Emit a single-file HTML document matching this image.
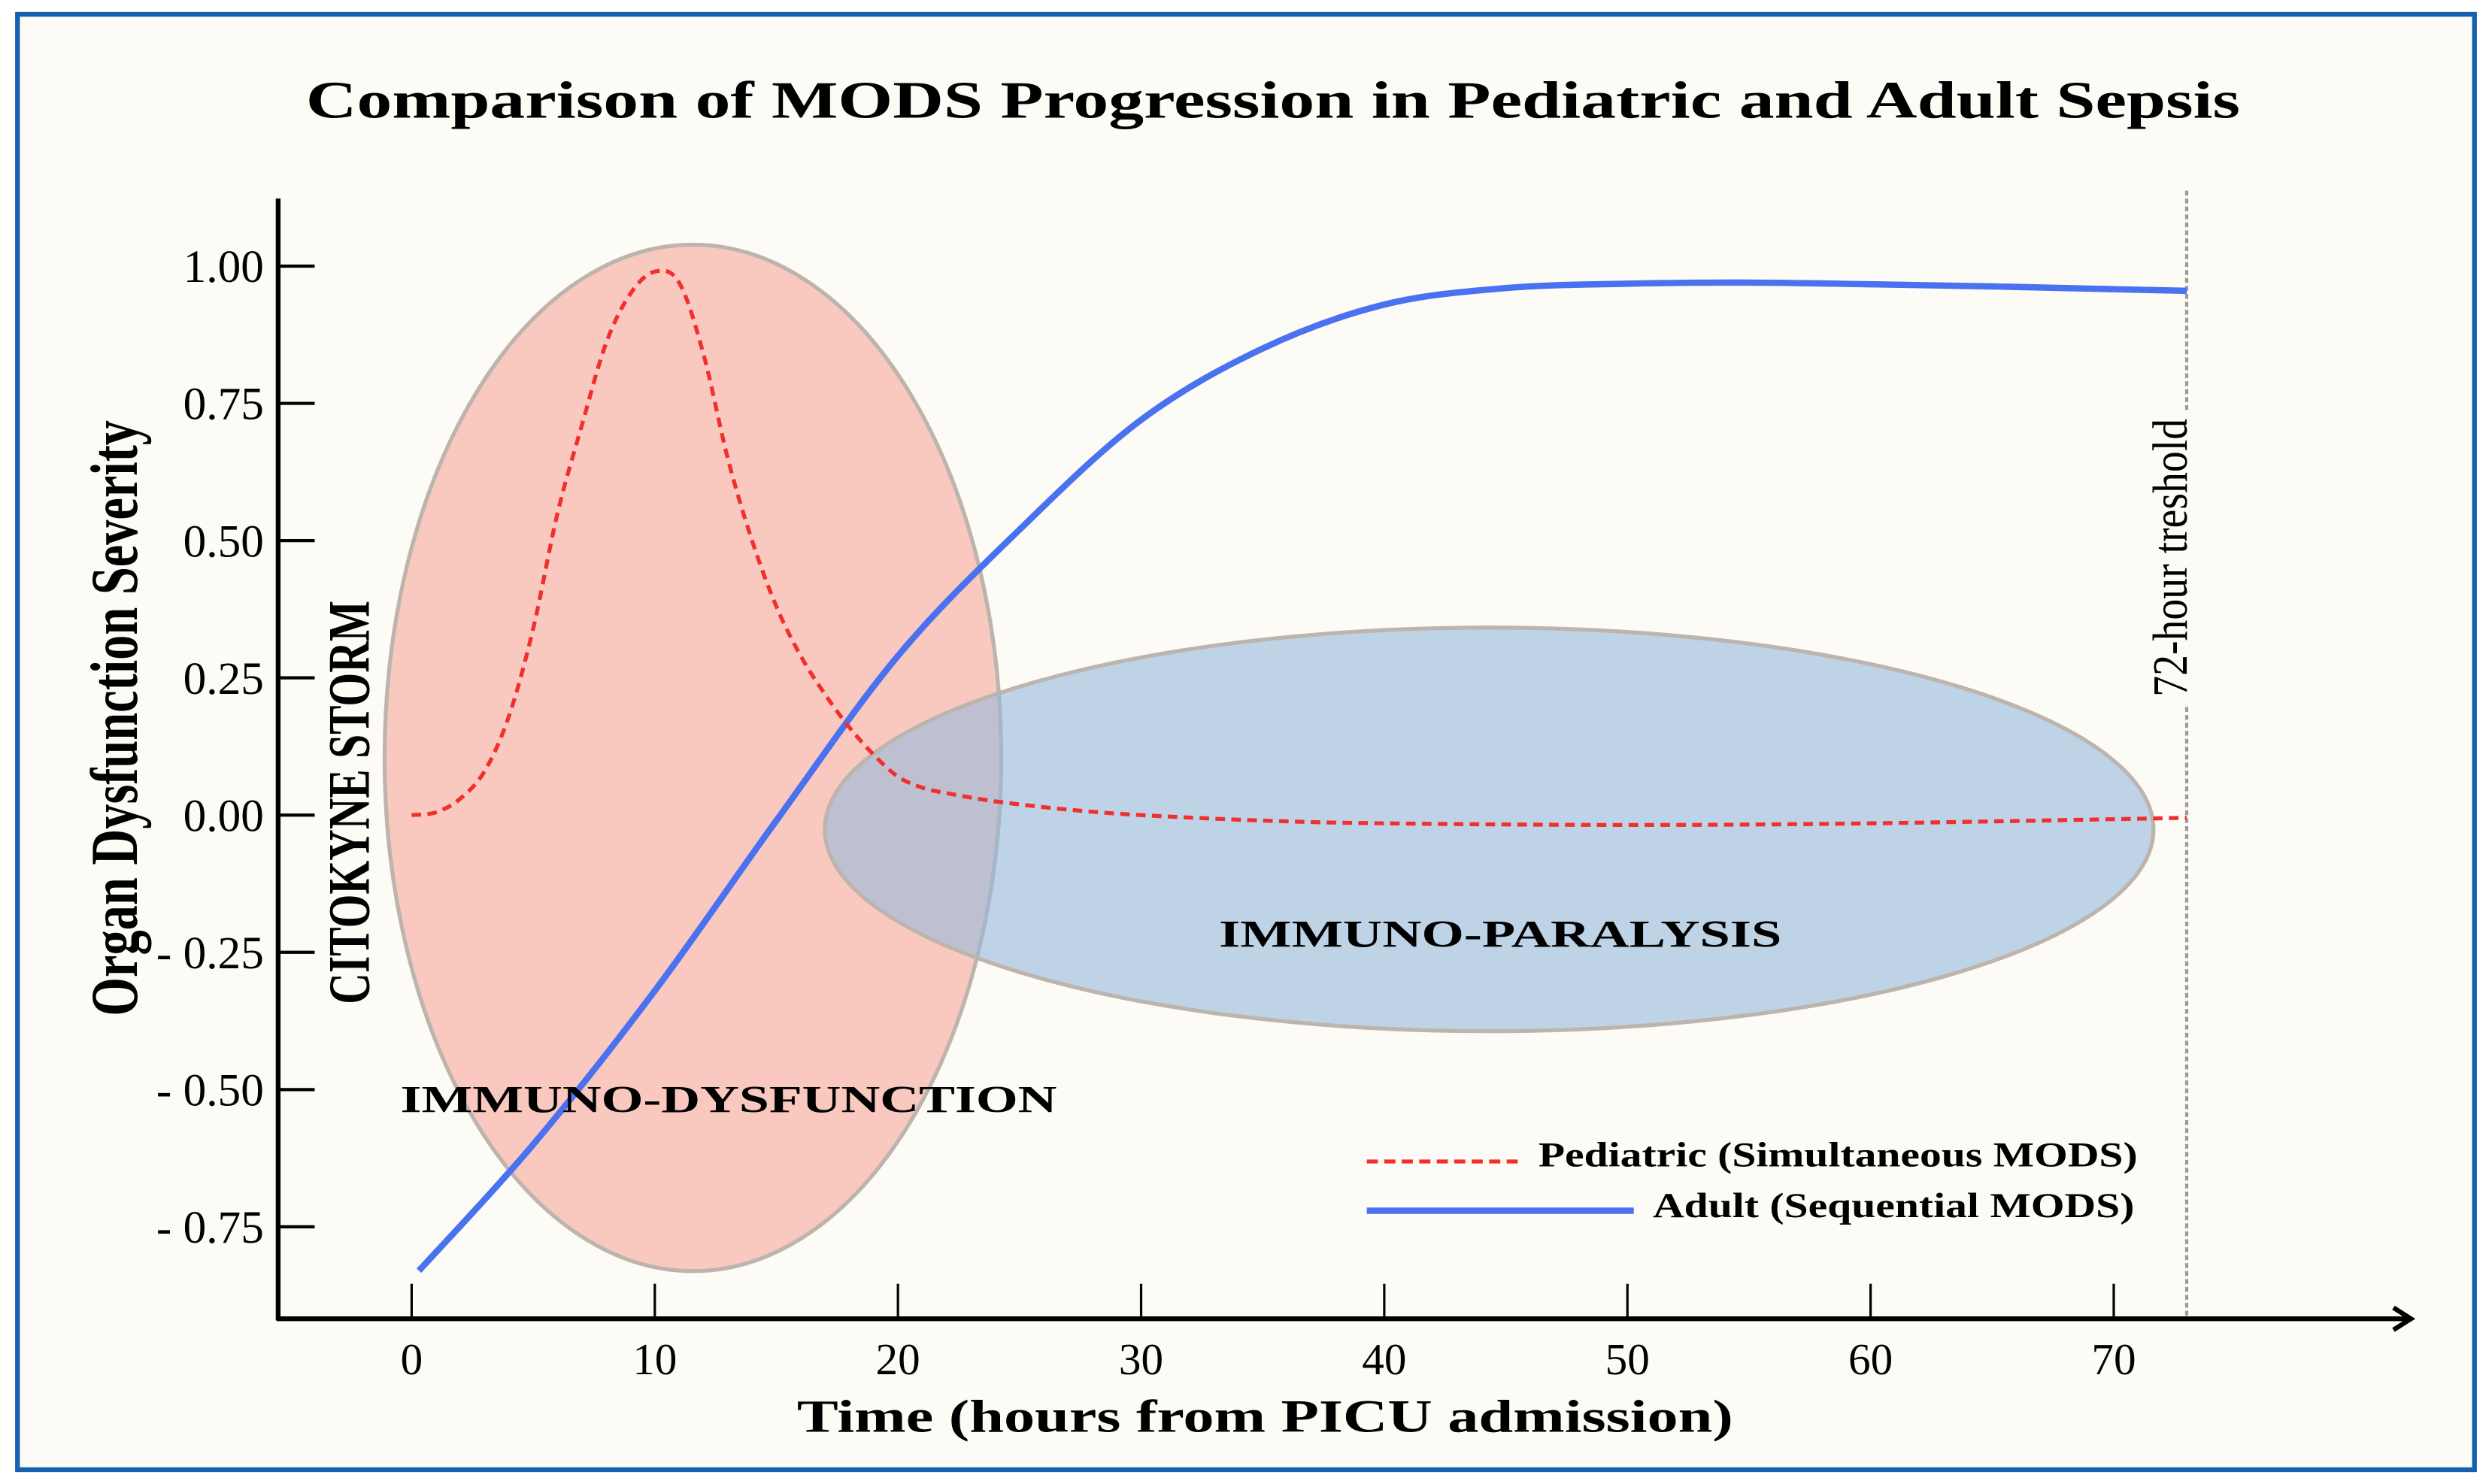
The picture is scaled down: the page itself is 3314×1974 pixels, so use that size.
<!DOCTYPE html>
<html><head><meta charset="utf-8">
<style>
html,body{margin:0;padding:0;background:#fff;}
svg{display:block;}
text{font-family:"Liberation Serif",serif;}
</style></head>
<body>
<svg id="chart" width="3314" height="1974" viewBox="0 0 1568 934" xmlns="http://www.w3.org/2000/svg">
<rect x="0" y="0" width="1568" height="934" fill="#ffffff"/>
<rect x="11" y="9" width="1546" height="916" fill="#fdfbf5" stroke="#1560b0" stroke-width="3"/>
<text x="801" y="74" text-anchor="middle" font-size="33" font-weight="bold" textLength="1217" lengthAdjust="spacingAndGlyphs">Comparison of MODS Progression in Pediatric and Adult Sepsis</text>

<ellipse cx="436" cy="477" rx="194" ry="323" fill="#f9c9c0" stroke="#bdb5ad" stroke-width="2.5"/>
<ellipse cx="937" cy="522" rx="418" ry="127" fill="rgba(150,185,220,0.6)" stroke="#bdb5ad" stroke-width="2.5"/>

<g id="axes"></g>
<g id="series"></g>

<text transform="translate(86,452) rotate(-90)" text-anchor="middle" font-size="42" font-weight="bold" textLength="375" lengthAdjust="spacingAndGlyphs">Organ Dysfunction Severity</text>
<text transform="translate(232,505) rotate(-90)" text-anchor="middle" font-size="37" font-weight="bold" textLength="254" lengthAdjust="spacingAndGlyphs">CITOKYNE STORM</text>
<text x="252" y="700" font-size="24" font-weight="bold" textLength="413" lengthAdjust="spacingAndGlyphs">IMMUNO-DYSFUNCTION</text>
<text x="767" y="596" font-size="24" font-weight="bold" textLength="354" lengthAdjust="spacingAndGlyphs">IMMUNO-PARALYSIS</text>
<text x="796" y="901" text-anchor="middle" font-size="29" font-weight="bold" textLength="589" lengthAdjust="spacingAndGlyphs">Time (hours from PICU admission)</text>

<g>
<line x1="860" y1="731" x2="955" y2="731" stroke="#f0302c" stroke-width="2.5" stroke-dasharray="7,4"/>
<text x="968" y="734" font-size="22" font-weight="bold" textLength="377" lengthAdjust="spacingAndGlyphs">Pediatric (Simultaneous MODS)</text>
<line x1="860" y1="762" x2="1028" y2="762" stroke="#4a72f0" stroke-width="4"/>
<text x="1040" y="766" font-size="22" font-weight="bold" textLength="303" lengthAdjust="spacingAndGlyphs">Adult (Sequential MODS)</text>
</g>
</svg>
<script>
const xTicks = [0,10,20,30,40,50,60,70];
const yTicks = [1.0,0.75,0.5,0.25,0.0,-0.25,-0.5,-0.75];
const yTickLabels = ["1.00","0.75","0.50","0.25","0.00","- 0.25","- 0.50","- 0.75"];
const thresholdHour = 73;
const pedT = [0,1,2,3,4,5,6,7,8,9,10,11,12,13,14,15,16,17,18,19,20,21,22,24,27,30,35,40,50,60,73];
const pedV = [0,0.005,0.03,0.08,0.18,0.34,0.55,0.71,0.86,0.95,0.99,0.97,0.84,0.65,0.5,0.38,0.29,0.22,0.16,0.11,0.07,0.05,0.04,0.025,0.01,0,-0.01,-0.015,-0.018,-0.015,-0.005];
const adultT = [0.3,5,10,15,20,25,30,35,40,45,50,55,60,65,70,73];
const adultV = [-0.83,-0.6,-0.32,-0.01,0.29,0.52,0.72,0.85,0.93,0.96,0.968,0.97,0.967,0.963,0.958,0.955];

const NS = "http://www.w3.org/2000/svg";
const xS = t => 259 + t * 15.3;
const yS = v => 513 - v * 345.5;
function mk(tag, attrs, parent){ const e=document.createElementNS(NS,tag); for(const k in attrs) e.setAttribute(k,attrs[k]); parent.appendChild(e); return e; }
function smooth(ts, vs){
  const p = ts.map((t,i)=>[xS(t), yS(vs[i])]);
  let d = "M"+p[0][0]+","+p[0][1];
  for(let i=0;i<p.length-1;i++){
    const p0=p[Math.max(0,i-1)], p1=p[i], p2=p[i+1], p3=p[Math.min(p.length-1,i+2)];
    const c1=[p1[0]+(p2[0]-p0[0])/6, p1[1]+(p2[1]-p0[1])/6];
    const c2=[p2[0]-(p3[0]-p1[0])/6, p2[1]-(p3[1]-p1[1])/6];
    d += " C"+c1[0]+","+c1[1]+" "+c2[0]+","+c2[1]+" "+p2[0]+","+p2[1];
  }
  return d;
}
const ax = document.getElementById("axes");
const se = document.getElementById("series");

const th = mk("line",{x1:xS(thresholdHour),y1:120,x2:xS(thresholdHour),y2:830,stroke:"#9a9a9a","stroke-width":2,"stroke-dasharray":"3,2"},ax);


const tbg = mk("rect",{x:xS(thresholdHour)-22,y:260,width:30,height:184,fill:"#fdfbf5"},ax);


const tl = mk("text",{transform:"translate("+(xS(thresholdHour)+0)+",351) rotate(-90)","text-anchor":"middle","font-size":31,textLength:175,lengthAdjust:"spacingAndGlyphs"},ax);
tl.textContent = "72-hour treshold";



const ya = mk("line",{x1:175,y1:125,x2:175,y2:831,stroke:"#000","stroke-width":3},ax);


const xa = mk("line",{x1:174,y1:830,x2:1514,y2:830,stroke:"#000","stroke-width":3},ax);


const ar = mk("path",{d:"M1506,823 L1517,830 L1506,837",fill:"none",stroke:"#000","stroke-width":3},ax);



yTicks.forEach((v,i)=>{
  const l = mk("line",{x1:176,y1:yS(v),x2:198,y2:yS(v),stroke:"#000","stroke-width":2},ax);
  
  
  const t = mk("text",{x:166,y:yS(v)+10,"text-anchor":"end","font-size":29},ax);
  t.textContent = yTickLabels[i];
  
  
});
xTicks.forEach(v=>{
  const l = mk("line",{x1:xS(v),y1:808,x2:xS(v),y2:830,stroke:"#000","stroke-width":1.5},ax);
  
  
  const t = mk("text",{x:xS(v),y:865,"text-anchor":"middle","font-size":28},ax);
  t.textContent = String(v);
  
  
});

const ad = mk("path",{d:smooth(adultT,adultV),fill:"none",stroke:"#4a72f0","stroke-width":4},se);


const pd = mk("path",{d:smooth(pedT,pedV),fill:"none",stroke:"#f0302c","stroke-width":2.5,"stroke-dasharray":"6,4"},se);


</script>
</body></html>
